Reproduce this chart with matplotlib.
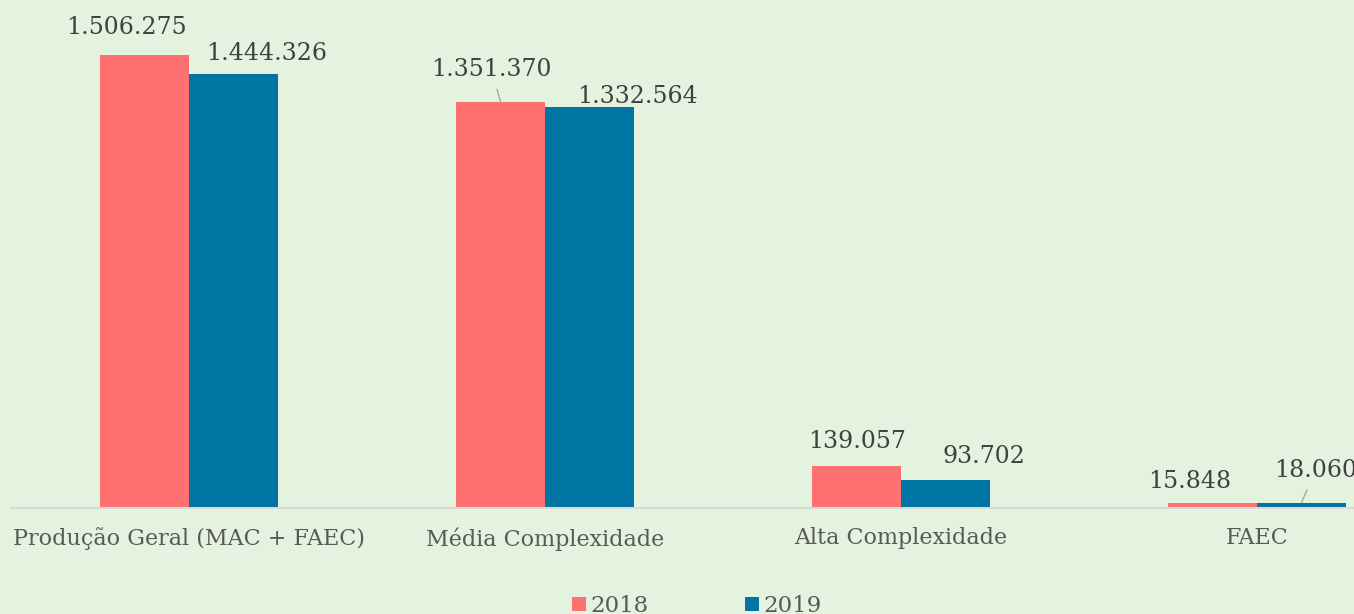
import matplotlib.pyplot as plt
import numpy as np

categorias = ["Produção Geral (MAC + FAEC)", "Média Complexidade", "Alta Complexidade", "FAEC"]
anos = ["2018", "2019"]
valores_2018 = [1506275, 1351370, 139057, 15848]
valores_2019 = [1444326, 1332564, 93702, 18060]

cores = ["#FF7171", "#0074A2"]
fundo = "#E4F3E0"

# deslocamento dos rótulos (pixels) em relação ao topo de cada barra
offsets_2018 = [(-18, 28), (-9, 32), (1, 25), (-23, 22)]
offsets_2019 = [(33, 20), (48, 11), (38, 23), (14, 32)]
com_linha = {("2018", 1), ("2019", 3)}

plt.rcParams['font.family'] = ['DejaVu Serif']

fig = plt.figure(figsize=(13.54, 6.14), dpi=100)
fig.patch.set_facecolor(fundo)
ax = fig.add_axes([11 / 1354, 106 / 614, 1424 / 1354, 481 / 614])
ax.set_facecolor(fundo)

x = np.arange(len(categorias))
largura = 0.25
series = [valores_2018, valores_2019]
offsets = [offsets_2018, offsets_2019]

for k, (ano, vals) in enumerate(zip(anos, series)):
    pos = x + (k - 0.5) * largura
    ax.bar(pos, vals, largura, color=cores[k], label=ano, zorder=2)
    for i, (p, v) in enumerate(zip(pos, vals)):
        dx, dy = offsets[k][i]
        txt = f"{v:,}".replace(",", ".")
        props = None
        if (ano, i) in com_linha:
            props = dict(arrowstyle="-", color="#A6A6A6", lw=1, shrinkA=4, shrinkB=0)
        ax.annotate(txt, (p, v), xytext=(dx, dy), textcoords="offset pixels",
                    ha="center", va="center", fontsize=17, color="#404040",
                    annotation_clip=False, arrowprops=props)

ax.set_xlim(-0.5, 3.5)
ax.set_ylim(0, 1600000)
ax.set_xticks(x)
ax.set_xticklabels(categorias, fontsize=16, color="#595959")
ax.tick_params(axis="x", length=0, pad=14)
ax.set_yticks([])
for s in ["top", "right", "left"]:
    ax.spines[s].set_visible(False)
ax.spines["bottom"].set_color("#D9D9D9")
ax.spines["bottom"].set_linewidth(1.5)

fig.legend(loc="center", bbox_to_anchor=(697 / 1354, 1 - 606 / 614), ncol=2,
           frameon=False, fontsize=16.5, handlelength=0.6, handleheight=0.6,
           handletextpad=0.2, columnspacing=4.2, labelcolor="#595959")

fig.savefig("out.png", dpi=100, facecolor=fundo)
